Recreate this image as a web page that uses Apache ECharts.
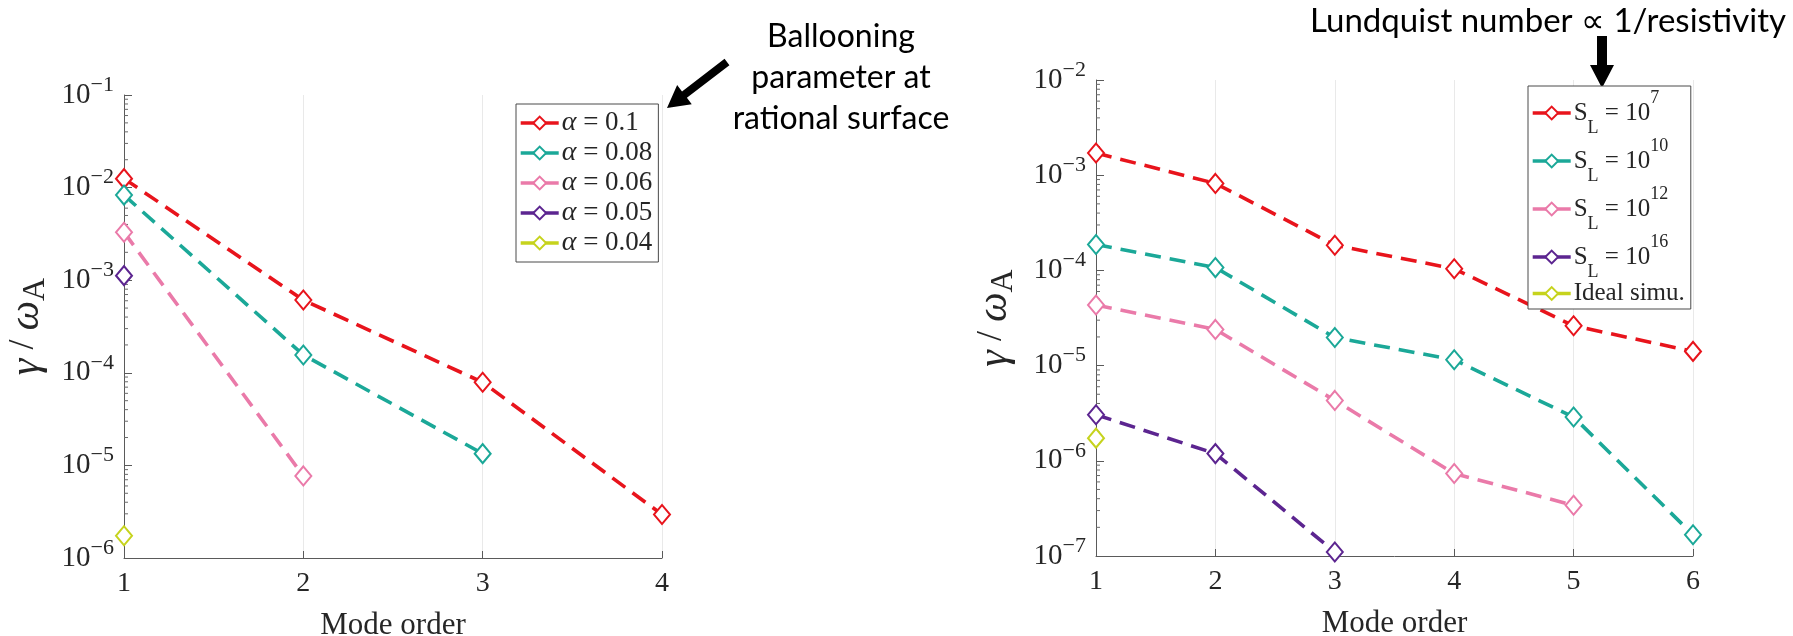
<!DOCTYPE html>
<html>
<head>
<meta charset="utf-8">
<title>Growth rate vs mode order</title>
<script src="https://cdn.jsdelivr.net/npm/echarts@6/dist/echarts.min.js"></script>
<style>
  html, body { margin: 0; padding: 0; background: #ffffff; }
  #chart { width: 1793px; height: 636px; }
</style>
</head>
<body>
<div id="chart"></div>
<script>
// ---- Left panel: ballooning parameter scan (mode order 1..4) ----
const alphaLabels = ['0.1', '0.08', '0.06', '0.05', '0.04'];
const alphaModes = [
  [1, 2, 3, 4],
  [1, 2, 3],
  [1, 2],
  [1],
  [1]
];
const alphaGrowth = [
  [1.25e-2, 6.1e-4, 7.9e-5, 2.95e-6],
  [8.3e-3, 1.56e-4, 1.34e-5],
  [3.3e-3, 7.7e-6],
  [1.12e-3],
  [1.74e-6]
];

// ---- Right panel: Lundquist number scan (mode order 1..6) ----
const lundquistExponents = ['7', '10', '12', '16'];
const idealLabel = 'Ideal simu.';
const lundModes = [
  [1, 2, 3, 4, 5, 6],
  [1, 2, 3, 4, 5, 6],
  [1, 2, 3, 4, 5],
  [1, 2, 3],
  [1]
];
const lundGrowth = [
  [1.71e-3, 8.2e-4, 1.84e-4, 1.04e-4, 2.62e-5, 1.41e-5],
  [1.87e-4, 1.07e-4, 1.97e-5, 1.15e-5, 2.88e-6, 1.67e-7],
  [4.33e-5, 2.40e-5, 4.31e-6, 7.35e-7, 3.41e-7],
  [3.05e-6, 1.19e-6, 1.10e-7],
  [1.73e-6]
];

// Axis ranges and tick labels
const leftModeTicks = [1, 2, 3, 4];
const rightModeTicks = [1, 2, 3, 4, 5, 6];
const leftDecades = [-6, -5, -4, -3, -2, -1];
const rightDecades = [-7, -6, -5, -4, -3, -2];
const minorMultipliers = [2, 3, 4, 5, 6, 7, 8, 9];

const palette = ['#e8141c', '#1ba898', '#ea7aa9', '#5c2590', '#c6d31d'];
const SERIF = '"Liberation Serif", "DejaVu Serif", serif';
const SANS = 'Lato, "Open Sans", "Noto Sans", sans-serif';

const chart = echarts.init(document.getElementById('chart'), null, { renderer: 'canvas' });

function decadeLabel(v) {
  const e = Math.round(Math.log10(v));
  return '{b|10}{s|\u2212' + Math.abs(e) + '}';
}
const decadeRich = {
  b: { fontFamily: SERIF, fontSize: 29, color: '#262626', lineHeight: 42 },
  s: { fontFamily: SERIF, fontSize: 22, color: '#262626', lineHeight: 20, verticalAlign: 'top' }
};

function makeXAxis(gridIndex, ticks) {
  return {
    gridIndex: gridIndex,
    type: 'value',
    min: ticks[0],
    max: ticks[ticks.length - 1],
    interval: 1,
    name: 'Mode order',
    nameLocation: 'middle',
    nameGap: 52,
    nameTextStyle: { fontFamily: SERIF, fontSize: 31, color: '#262626' },
    axisLine: { show: true, lineStyle: { color: '#5a5a5a', width: 1 } },
    axisTick: { show: true, inside: true, length: 7, lineStyle: { color: '#5a5a5a' } },
    axisLabel: { fontFamily: SERIF, fontSize: 28, color: '#262626', margin: 12 },
    splitLine: { show: true, lineStyle: { color: '#e9e9e9', width: 1 } }
  };
}

function makeYAxis(gridIndex, decades, nameGap) {
  return {
    gridIndex: gridIndex,
    type: 'log',
    logBase: 10,
    min: Math.pow(10, decades[0]),
    max: Math.pow(10, decades[decades.length - 1]),
    name: '{g|\u03b3}{t| / }{g|\u03c9}{a|A}',
    nameLocation: 'middle',
    nameRotate: 90,
    nameGap: nameGap,
    nameTextStyle: {
      rich: {
        g: { fontFamily: SERIF, fontSize: 42, fontStyle: 'italic', color: '#262626', lineHeight: 46, verticalAlign: 'top' },
        t: { fontFamily: SERIF, fontSize: 36, color: '#262626', lineHeight: 46, verticalAlign: 'top' },
        a: { fontFamily: SERIF, fontSize: 32, color: '#262626', lineHeight: 36, verticalAlign: 'bottom' }
      }
    },
    axisLine: { show: true, lineStyle: { color: '#5a5a5a', width: 1 } },
    axisTick: { show: true, inside: true, length: 8, lineStyle: { color: '#5a5a5a' } },
    axisLabel: { formatter: decadeLabel, rich: decadeRich, margin: 10 },
    splitLine: { show: false },
    minorTick: { show: false }
  };
}

// Log-scale minor ticks (2..9 within each decade), drawn inside the y axis
function minorTickSeries(gridIndex, decades, xAtAxis) {
  const data = [];
  for (let i = 0; i < decades.length - 1; i++) {
    minorMultipliers.forEach(function (m) {
      data.push([xAtAxis, m * Math.pow(10, decades[i])]);
    });
  }
  return {
    type: 'custom',
    xAxisIndex: gridIndex,
    yAxisIndex: gridIndex,
    silent: true,
    z: 1,
    data: data,
    renderItem: function (params, api) {
      const p = api.coord([api.value(0), api.value(1)]);
      return {
        type: 'line',
        shape: { x1: p[0], y1: p[1], x2: p[0] + 4, y2: p[1] },
        style: { stroke: '#6a6a6a', lineWidth: 1 }
      };
    }
  };
}

function lineSeries(name, gridIndex, modes, values, color) {
  return {
    name: name,
    type: 'line',
    xAxisIndex: gridIndex,
    yAxisIndex: gridIndex,
    data: modes.map(function (m, i) { return [m, values[i]]; }),
    symbol: 'emptyDiamond',
    symbolSize: [16, 19],
    showAllSymbol: true,
    z: 3,
    itemStyle: { color: color, borderColor: color, borderWidth: 3.4 },
    lineStyle: { color: color, width: 3.6, type: [16, 9] },
    emphasis: { disabled: true },
    animation: false
  };
}

const leftNames = alphaLabels.map(function (a) { return 'alpha ' + a; });
const rightNames = lundquistExponents.map(function (e) { return 'SL ' + e; }).concat([idealLabel]);

const series = [];
leftNames.forEach(function (n, i) {
  series.push(lineSeries(n, 0, alphaModes[i], alphaGrowth[i], palette[i]));
});
rightNames.forEach(function (n, i) {
  series.push(lineSeries(n, 1, lundModes[i], lundGrowth[i], palette[i]));
});
series.push(minorTickSeries(0, leftDecades, leftModeTicks[0]));
series.push(minorTickSeries(1, rightDecades, rightModeTicks[0]));

// Filled arrow outline from tail to tip
function arrowPoints(tail, tip, shaftW, headL, headW) {
  const dx = tip[0] - tail[0], dy = tip[1] - tail[1];
  const len = Math.sqrt(dx * dx + dy * dy);
  const ux = dx / len, uy = dy / len;
  const nx = -uy, ny = ux;
  const bx = tip[0] - ux * headL, by = tip[1] - uy * headL;
  return [
    [tail[0] + nx * shaftW / 2, tail[1] + ny * shaftW / 2],
    [bx + nx * shaftW / 2, by + ny * shaftW / 2],
    [bx + nx * headW / 2, by + ny * headW / 2],
    tip,
    [bx - nx * headW / 2, by - ny * headW / 2],
    [bx - nx * shaftW / 2, by - ny * shaftW / 2],
    [tail[0] - nx * shaftW / 2, tail[1] - ny * shaftW / 2]
  ];
}

const legendCommon = {
  orient: 'vertical',
  padding: [3, 6, 3, 3],
  itemGap: 0,
  itemWidth: 38,
  itemHeight: 16,
  borderColor: '#4a4a4a',
  borderWidth: 1,
  backgroundColor: '#ffffff',
  selectedMode: false,
  lineStyle: { width: 3.4, type: 'solid' },
  itemStyle: { borderWidth: 3 }
};

const option = {
  backgroundColor: '#ffffff',
  animation: false,
  grid: [
    { left: 124, top: 95, width: 538, height: 463, containLabel: false, outerBoundsMode: 'none' },
    { left: 1096, top: 80, width: 597, height: 476, containLabel: false, outerBoundsMode: 'none' }
  ],
  xAxis: [makeXAxis(0, leftModeTicks), makeXAxis(1, rightModeTicks)],
  yAxis: [makeYAxis(0, leftDecades, 72), makeYAxis(1, rightDecades, 76)],
  legend: [
    Object.assign({}, legendCommon, {
      data: leftNames,
      left: 516,
      top: 104,
      itemGap: 2,
      padding: [5, 6, 5, 3],
      formatter: function (name) {
        return '{i|\u03b1}{t| = ' + name.slice(6) + '}';
      },
      textStyle: {
        padding: [0, 0, 0, -2],
        rich: {
          i: { fontFamily: SERIF, fontSize: 28, fontStyle: 'italic', color: '#262626', lineHeight: 33 },
          t: { fontFamily: SERIF, fontSize: 27, color: '#262626', lineHeight: 33 }
        }
      }
    }),
    Object.assign({}, legendCommon, {
      data: rightNames,
      left: 1528,
      top: 86,
      formatter: function (name) {
        if (name === idealLabel) {
          return '{p|' + name + '}';
        }
        return '{t|S}{sub|L}{t| = 10}{sup|' + name.slice(3) + '}';
      },
      textStyle: {
        padding: [0, 0, 0, -2],
        rich: {
          t: { fontFamily: SERIF, fontSize: 25, color: '#262626', lineHeight: 48 },
          sub: { fontFamily: SERIF, fontSize: 18, color: '#262626', lineHeight: 22, verticalAlign: 'bottom' },
          sup: { fontFamily: SERIF, fontSize: 18, color: '#262626', lineHeight: 22, verticalAlign: 'top' },
          p: { fontFamily: SERIF, fontSize: 25, color: '#262626', lineHeight: 42 }
        }
      }
    })
  ],
  graphic: [
    {
      type: 'text',
      style: {
        x: 841,
        y: 16,
        text: 'Ballooning\nparameter at\nrational surface',
        align: 'center',
        verticalAlign: 'top',
        font: '32px ' + SANS,
        lineHeight: 41,
        fill: '#000000'
      }
    },
    {
      type: 'polygon',
      shape: { points: arrowPoints([727, 62], [667, 108], 8, 22, 24) },
      style: { fill: '#000000' }
    },
    {
      type: 'text',
      style: {
        x: 1548,
        y: 21,
        text: 'Lundquist number \u221d 1/resistivity',
        align: 'center',
        verticalAlign: 'middle',
        font: '33px ' + SANS,
        fill: '#000000'
      }
    },
    {
      type: 'polygon',
      shape: { points: arrowPoints([1602, 36], [1602, 88], 10, 23, 24) },
      style: { fill: '#000000' }
    }
  ],
  series: series
};

chart.setOption(option);
</script>
</body>
</html>
